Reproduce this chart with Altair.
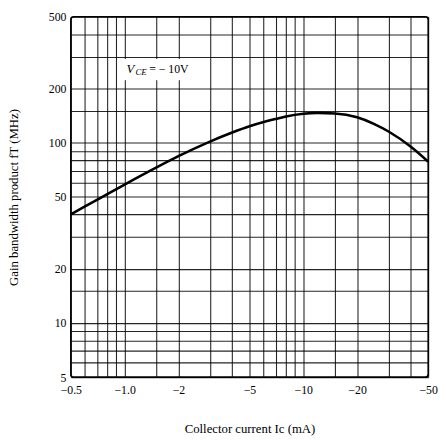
import altair as alt
import pandas as pd

# Curve: collector current |Ic| (mA) vs gain bandwidth product fT (MHz)
ic_ma = [0.5, 0.6, 0.7, 0.8, 1.0, 1.5, 2, 3, 4, 5, 6, 7, 8, 10, 12, 15, 20, 25, 30, 40, 50]
ft_mhz = [40, 44.3, 48.2, 51.9, 58.6, 72.7, 84.2, 101.5, 114, 123.5, 130.4, 135.5, 140,
          145, 146.5, 145.5, 138.5, 127, 115.5, 95, 78.5]

# Grid / tick positions
x_ticks = [0.5, 0.6, 0.7, 0.8, 0.9, 1, 1.5, 2, 3, 4, 5, 6, 7, 8, 9, 10, 15, 20, 30, 40, 50]
y_ticks = [5, 6, 7, 8, 9, 10, 15, 20, 30, 40, 50, 60, 70, 80, 90, 100, 150, 200, 300, 400, 500]

x_label_values = [0.5, 1, 2, 5, 10, 20, 50]
x_label_texts = ["\u22120.5", "\u22121.0", "\u22122", "\u22125", "\u221210", "\u221220", "\u221250"]
y_label_values = [5, 10, 20, 50, 100, 200, 500]
y_label_texts = ["5", "10", "20", "50", "100", "200", "500"]

# Annotation
ann_x = [1.0]
ann_y = [255]
ann_box_x = [0.97]
ann_box_x2 = [2.45]
ann_box_y = [222]
ann_box_y2 = [292]


def label_expr(values, texts):
    expr = "''"
    for v, t in reversed(list(zip(values, texts))):
        expr = f"datum.value == {v} ? '{t}' : ({expr})"
    return expr


FONT = "Liberation Serif"

curve = pd.DataFrame({"ic": ic_ma, "ft": ft_mhz})

x_scale = alt.Scale(type="log", domain=[0.5, 50], nice=False)
y_scale = alt.Scale(type="log", domain=[5, 500], nice=False)

x_axis = alt.Axis(
    values=x_ticks,
    labelExpr=label_expr(x_label_values, x_label_texts),
    grid=True, gridColor="black", gridOpacity=0.85, gridWidth=1.1,
    domain=False, ticks=False, labelOverlap=False, labelFlush=False,
    labelFont=FONT, labelFontSize=12, labelColor="black", labelPadding=8,
    title="Collector current  Ic (mA)", titleFont=FONT, titleFontSize=13,
    titleFontWeight="normal", titleColor="black", titlePadding=27,
)
y_axis = alt.Axis(
    values=y_ticks,
    labelExpr=label_expr(y_label_values, y_label_texts),
    grid=True, gridColor="black", gridOpacity=0.85, gridWidth=1.1,
    domain=False, ticks=False, labelOverlap=False, labelFlush=False,
    labelFont=FONT, labelFontSize=12, labelColor="black", labelPadding=5,
    title="Gain bandwidth product  fT (MHz)", titleFont=FONT, titleFontSize=13,
    titleFontWeight="normal", titleColor="black", titlePadding=28,
)

line = alt.Chart(curve).mark_line(
    color="black", strokeWidth=2.6, interpolate="monotone"
).encode(
    x=alt.X("ic:Q", scale=x_scale, axis=x_axis),
    y=alt.Y("ft:Q", scale=y_scale, axis=y_axis),
)

box = alt.Chart(pd.DataFrame({"x": ann_box_x, "x2": ann_box_x2,
                              "y": ann_box_y, "y2": ann_box_y2})).mark_rect(
    color="white"
).encode(
    x=alt.X("x:Q", scale=x_scale), x2="x2:Q",
    y=alt.Y("y:Q", scale=y_scale), y2="y2:Q",
)

ann = pd.DataFrame({"x": ann_x, "y": ann_y})
t_v = alt.Chart(ann).mark_text(
    text="V", font=FONT, fontSize=13, fontStyle="italic", align="left",
    baseline="middle", color="black", dx=2
).encode(x=alt.X("x:Q", scale=x_scale), y=alt.Y("y:Q", scale=y_scale))
t_ce = alt.Chart(ann).mark_text(
    text="CE", font=FONT, fontSize=9, fontStyle="italic", align="left",
    baseline="middle", color="black", dx=11, dy=3
).encode(x=alt.X("x:Q", scale=x_scale), y=alt.Y("y:Q", scale=y_scale))
t_rest = alt.Chart(ann).mark_text(
    text="= \u2212 10V", font=FONT, fontSize=12, align="left",
    baseline="middle", color="black", dx=25
).encode(x=alt.X("x:Q", scale=x_scale), y=alt.Y("y:Q", scale=y_scale))

chart = alt.layer(line, box, t_v, t_ce, t_rest).properties(
    width=364, height=367,
    autosize=alt.AutoSizeParams(type="none"),
    padding={"left": 64, "top": 5, "right": 10, "bottom": 58},
    background="white",
).configure_view(
    stroke="black", strokeWidth=1.6, cornerRadius=3
)

chart.save("out.html", embed_options={"renderer": "svg", "actions": False})
